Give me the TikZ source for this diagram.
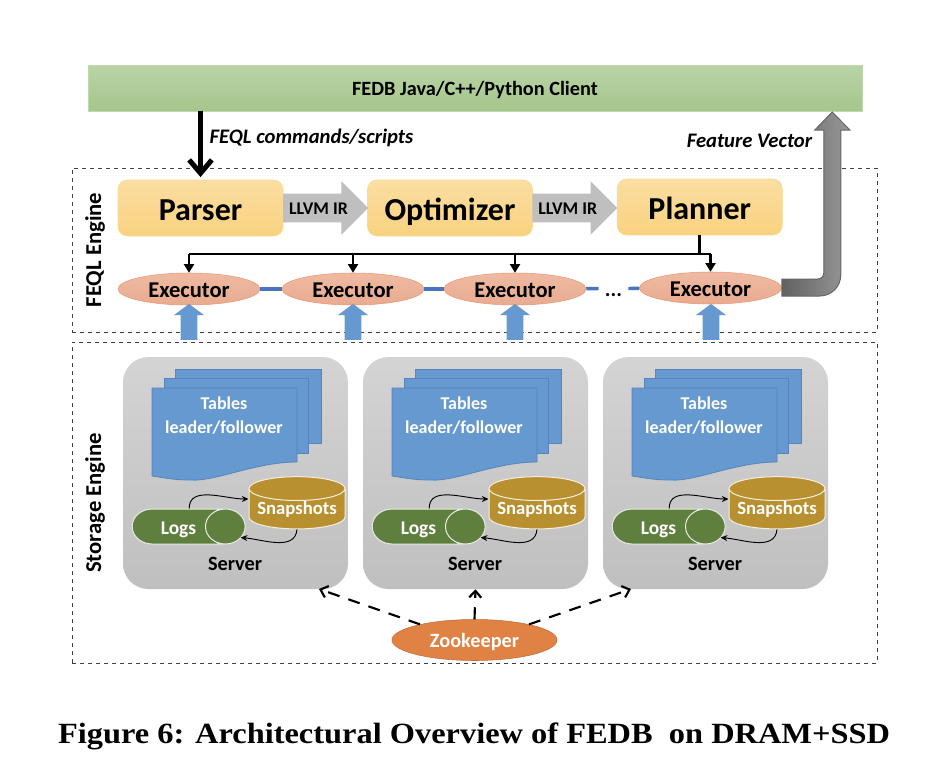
\documentclass[tikz,border=0pt]{standalone}
\usepackage{fontspec}
\setmainfont{Carlito}
\newfontfamily\capfont[FakeStretch=1.105]{Liberation Serif}
\usetikzlibrary{arrows.meta,shapes.geometric,shapes.arrows}
\definecolor{blueDoc}{HTML}{6699D0}
\definecolor{blueEdge}{HTML}{5585BC}
\definecolor{blueLine}{HTML}{4A74C0}
\definecolor{snapGold}{HTML}{B8902F}
\definecolor{logGreen}{HTML}{5F7F3F}
\definecolor{zooOrange}{HTML}{DF8244}
\tikzset{
  framebox/.style={draw=black!75,dashed,line width=0.75pt,minimum width=603.75pt},
  clientbox/.style={rectangle,
    top color={rgb,255:red,185;green,211;blue,166},bottom color={rgb,255:red,165;green,198;blue,139},
    draw={rgb,255:red,190;green,218;blue,172},minimum width=580.5pt,minimum height=34.5pt},
  stagebox/.style={rectangle,rounded corners=7pt,draw={rgb,255:red,248;green,218;blue,150},
    top color={rgb,255:red,251;green,222;blue,162},bottom color={rgb,255:red,249;green,210;blue,127},
    minimum width=123.75pt,minimum height=42pt,text height=18.5pt,text depth=0pt,font=\bfseries\fontsize{24}{24}\selectfont},
  irarrow/.style={single arrow,single arrow head extend=9.4pt,minimum width=39.75pt,minimum height=63.75pt,
    text height=15.5pt,text depth=5.5pt,fill=black!25,font=\bfseries\fontsize{13.4}{13.4}\selectfont},
  execnode/.style={ellipse,draw={rgb,255:red,235;green,150;blue,115},
    top color={rgb,255:red,239;green,186;blue,162},bottom color={rgb,255:red,232;green,171;blue,144},
    minimum width=106.5pt,minimum height=24pt,text height=12.4pt,text depth=0pt,font=\bfseries\fontsize{16.9}{16.9}\selectfont},
  uparrow/.style={single arrow,shape border rotate=90,single arrow tip angle=107,inner xsep=6pt,
    single arrow head extend=5.25pt,minimum height=27pt,minimum width=22.5pt,fill=blueDoc},
  serverbox/.style={rectangle,rounded corners=19pt,minimum width=168.75pt,minimum height=174pt,
    top color=black!17,bottom color=black!25},
  docsheet/.style={fill=blueDoc,draw=blueEdge,line width=0.6pt},
  doctext/.style={text=white,font=\bfseries\fontsize{13.5}{15}\selectfont,align=center},
  snapnode/.style={cylinder,shape border rotate=90,aspect=0.3,fill=snapGold,draw=white!85!snapGold,line width=0.75pt,
    minimum width=72pt,minimum height=39pt,text=white,font=\bfseries\fontsize{14}{14}\selectfont},
  lognode/.style={cylinder,aspect=2.4,fill=logGreen,draw=white!85!logGreen,line width=0.75pt,
    minimum width=26.25pt,minimum height=84.75pt,text height=12.4pt,text depth=0pt,text=white,font=\bfseries\fontsize{14.6}{14.6}\selectfont},
  loopline/.style={-{Stealth[length=5pt,width=4.5pt]},line width=0.7pt},
  boldlabel/.style={text height=11.3pt,text depth=0pt,font=\bfseries\fontsize{15.2}{15.2}\selectfont},
  italiclabel/.style={text height=12pt,text depth=0pt,font=\bfseries\itshape\fontsize{15.5}{15.5}\selectfont},
  sidelabel/.style={rotate=90,font=\bfseries\fontsize{17}{17}\selectfont},
  zooline/.style={dashed,dash pattern=on 9pt off 7pt,line width=1.6pt,-{Straight Barb[length=5pt,width=9pt]}},
  treeline/.style={line width=1.7pt},
  treearrow/.style={line width=1.7pt,-{Triangle[length=6.5pt,width=7.5pt]}}
}
\begin{document}
\begin{tikzpicture}[x=0.75pt,y=0.75pt]
\tikzstyle{every node}+=[inner sep=0pt]
\useasboundingbox (0,0) rectangle (932,-782);
% frames
\node (feqlFrame) at (474.5,-250) [framebox,minimum height=123pt] {};
\node (storeFrame) at (474.5,-502.5) [framebox,minimum height=240.75pt] {};
\node (feqlTitle) at (95,-250) [sidelabel] {FEQL Engine};
\node (storeTitle) at (95,-503) [sidelabel] {Storage Engine};
% client
\node (client) at (475,-88) [clientbox,boldlabel] {FEDB Java/C++/Python Client};
\node (cmdLabel) at (311.5,-135) [italiclabel] {FEQL commands/scripts};
\node (vecLabel) at (749.5,-139) [italiclabel] {Feature Vector};
% stages
\node (parser) at (200.5,-208) [stagebox] {Parser};
\node (optimizer) at (450,-208) [stagebox] {Optimizer};
\node (planner) at (699.75,-207) [stagebox] {Planner};
\node (irOne) at (318.5,-208) [irarrow] {LLVM IR};
\node (irTwo) at (567.75,-208) [irarrow] {LLVM IR};
\draw [-{Straight Barb[length=10pt,width=17pt]},line width=3.75pt] (client.south -| parser) -- ([yshift=2pt]parser.north);
% executors
\coordinate (bus) at (189,-254);
\node (execOne) at (189,-289) [execnode] {Executor};
\node (execTwo) at (353,-289) [execnode] {Executor};
\node (execThree) at (515,-289) [execnode] {Executor};
\node (execFour) at (710.5,-288) [execnode] {Executor};
\node (dots) at (613.5,-288.5) [minimum width=21.75pt,text height=12pt,text depth=0pt,font=\bfseries\fontsize{16}{16}\selectfont] {...};
\draw [blueLine,line width=2.5pt] (execOne) -- (execTwo);
\draw [blueLine,line width=2.5pt] (execTwo) -- (execThree);
\draw [blueLine,line width=2.5pt] (execThree) -- (dots);
\draw [blueLine,line width=2.5pt] (dots) -- (execFour);
\draw [line width=2.4pt] (planner.south) -- (planner.south |- bus);
\draw [treeline] (execOne |- bus) -- (execFour |- bus);
\draw [treearrow] (execOne |- bus) -- (execOne.north);
\draw [treearrow] (execTwo |- bus) -- (execTwo.north);
\draw [treearrow] (execThree |- bus) -- (execThree.north);
\draw [treearrow] (execFour |- bus) -- (execFour.north);
\node (upOne) at (189,-325) [uparrow] {};
\node (upTwo) at (353,-325) [uparrow] {};
\node (upThree) at (515,-325) [uparrow] {};
\node (upFour) at (711,-325) [uparrow] {};
% feature vector arrow
\draw [draw=black!60,left color=black!62,middle color=black!40,right color=black!40,line width=0.75pt]
  ([yshift=6.75pt]execFour.east) -- ++(36,0) arc[start angle=-90,end angle=0,radius=6] -- ++(0,143)
  -- ++(-9,0) -- ++(17.5,18) -- ++(17.5,-18) -- ++(-9,0) -- ++(0,-145)
  arc[start angle=0,end angle=-90,radius=21] -- ([yshift=-6pt]execFour.east) -- cycle;
% server one
\node (serverA) at (235.5,-473) [serverbox] {};
\draw [docsheet] (175,-369) rectangle (321,-443);
\draw [docsheet] (164,-378) rectangle (308,-453);
\draw [docsheet] (152,-388) -- (297,-388) -- (297,-462) .. controls (255,-462) and (215,-482) .. (190,-480) .. controls (175,-480) and (165,-478) .. (152,-476) -- cycle;
\node (tablesA) at (224,-416) [doctext] {Tables\\[3pt]leader/follower};
\node (snapA) at (297,-509) [snapnode] {Snapshots};
\node (logsA) at (178.5,-526.5) [lognode] {Logs};
\draw [loopline] ([xshift=8pt]logsA.north) to[out=90,in=180] ([yshift=7.5pt]snapA.west);
\draw [loopline] (snapA.south) to[out=-95,in=-5] ([xshift=-3.75pt,yshift=-8.25pt]logsA.east);
\node (serverLabelA) at (235,-563) [boldlabel] {Server};
% server two
\node (serverB) at (475.5,-473) [serverbox] {};
\draw [docsheet] (415,-369) rectangle (561,-443);
\draw [docsheet] (404,-378) rectangle (548,-453);
\draw [docsheet] (392,-388) -- (537,-388) -- (537,-462) .. controls (495,-462) and (455,-482) .. (430,-480) .. controls (415,-480) and (405,-478) .. (392,-476) -- cycle;
\node (tablesB) at (464,-416) [doctext] {Tables\\[3pt]leader/follower};
\node (snapB) at (537,-509) [snapnode] {Snapshots};
\node (logsB) at (418.5,-526.5) [lognode] {Logs};
\draw [loopline] ([xshift=8pt]logsB.north) to[out=90,in=180] ([yshift=7.5pt]snapB.west);
\draw [loopline] (snapB.south) to[out=-95,in=-5] ([xshift=-3.75pt,yshift=-8.25pt]logsB.east);
\node (serverLabelB) at (475,-563) [boldlabel] {Server};
% server three
\node (serverC) at (715.5,-473) [serverbox] {};
\draw [docsheet] (655,-369) rectangle (801,-443);
\draw [docsheet] (644,-378) rectangle (788,-453);
\draw [docsheet] (632,-388) -- (777,-388) -- (777,-462) .. controls (735,-462) and (695,-482) .. (670,-480) .. controls (655,-480) and (645,-478) .. (632,-476) -- cycle;
\node (tablesC) at (704,-416) [doctext] {Tables\\[3pt]leader/follower};
\node (snapC) at (777,-509) [snapnode] {Snapshots};
\node (logsC) at (658.5,-526.5) [lognode] {Logs};
\draw [loopline] ([xshift=8pt]logsC.north) to[out=90,in=180] ([yshift=7.5pt]snapC.west);
\draw [loopline] (snapC.south) to[out=-95,in=-5] ([xshift=-3.75pt,yshift=-8.25pt]logsC.east);
\node (serverLabelC) at (715,-563) [boldlabel] {Server};
% zookeeper
\node (zoo) at (474.5,-640) [ellipse,fill=zooOrange,draw=zooOrange!85!black,minimum width=123.75pt,minimum height=30.75pt,text=white,boldlabel] {Zookeeper};
\coordinate (zooLeft) at (319,-589);
\coordinate (zooRight) at (631,-589);
\draw [zooline] (zoo.north) -- (serverB.south);
\draw [zooline] (zoo.164) -- (zooLeft);
\draw [zooline] (zoo.16) -- (zooRight);
% caption
\node (caption) at (474,-736) [font=\capfont\bfseries\fontsize{22}{22}\selectfont] {Figure 6: Architectural Overview of FEDB\ \ on DRAM+SSD};
\end{tikzpicture}
\end{document}
